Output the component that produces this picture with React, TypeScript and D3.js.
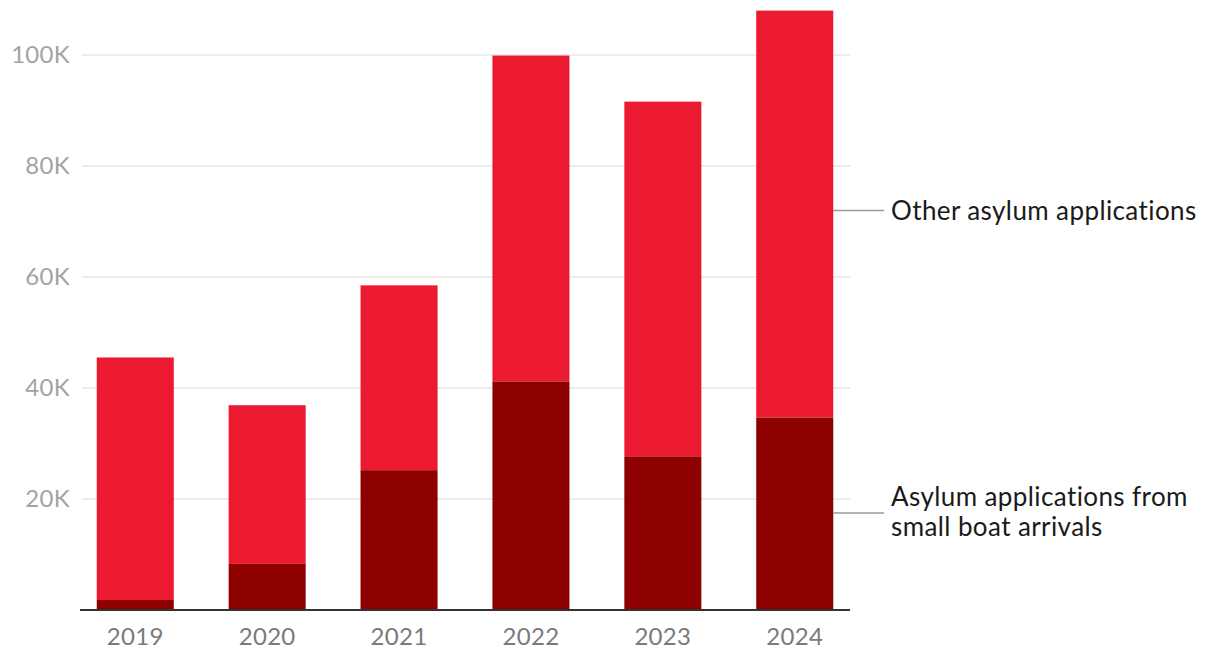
import React from "react";
import * as d3 from "d3";

const years = ["2019", "2020", "2021", "2022", "2023", "2024"];
const smallBoat = [1.8, 8.3, 25.2, 41.2, 27.7, 34.7];
const totals = [45.5, 36.9, 58.5, 99.9, 91.6, 108.0];
const other = totals.map((t, i) => +(t - smallBoat[i]).toFixed(1));
const yTicks = [20, 40, 60, 80, 100];
const seriesKeys = ["smallBoat", "other"];
const seriesLabels: Record<string, string[]> = {
  other: ["Other asylum applications"],
  smallBoat: ["Asylum applications from", "small boat arrivals"],
};
const colors: Record<string, string> = { smallBoat: "#8c0000", other: "#ec1a31" };

const W = 1220;
const H = 670;
const left = 80;
const right = 850;
const bottom = 610;

export default function App() {
  const rows = years.map((y, i) => ({ year: y, smallBoat: smallBoat[i], other: other[i] }));
  const stack = d3.stack<any>().keys(seriesKeys)(rows);
  const x = d3.scaleBand().domain(years).range([left, right]).paddingInner(0.416).paddingOuter(0.127);
  const y = d3.scaleLinear().domain([0, 100]).range([bottom, bottom - 555]);
  const font = "Lato, 'Open Sans', sans-serif";
  const lastYear = years[years.length - 1];
  const labelAnchors: Record<string, number> = { other: 72, smallBoat: 17.5 };

  return (
    <svg width={W} height={H} style={{ position: "absolute", left: 0, top: 0 }} fontFamily={font}>
      <rect width={W} height={H} fill="#fff" />
      {yTicks.map((t) => (
        <g key={t}>
          <line x1={82} x2={right} y1={y(t)} y2={y(t)} stroke="#e6e6e6" strokeWidth={1.5} />
          <text x={70} y={y(t)} dy="0.35em" textAnchor="end" fontSize={24} letterSpacing={0.3} fill="#a3a3a3">
            {t}K
          </text>
        </g>
      ))}
      {stack.map((s) => (
        <g key={s.key} fill={colors[s.key]}>
          {s.map((d: any, i: number) => (
            <rect
              key={i}
              x={x(years[i])}
              width={x.bandwidth()}
              y={y(d[1])}
              height={y(d[0]) - y(d[1])}
            />
          ))}
        </g>
      ))}
      <line x1={left} x2={right} y1={y(0)} y2={y(0)} stroke="#333" strokeWidth={2} />
      {years.map((yr) => (
        <text
          key={yr}
          x={(x(yr) as number) + x.bandwidth() / 2}
          y={637}
          dy="0.35em"
          textAnchor="middle"
          fontSize={24}
          letterSpacing={0.3}
          fill="#7a7a7a"
        >
          {yr}
        </text>
      ))}
      {seriesKeys.map((k) => {
        const xe = (x(lastYear) as number) + x.bandwidth();
        const yy = y(labelAnchors[k]);
        const lines = seriesLabels[k];
        const lh = 30;
        const y0 = yy - ((lines.length - 1) * lh) / 2 - (lines.length > 1 ? 1 : 0);
        return (
          <g key={k}>
            <line x1={xe} x2={884} y1={yy} y2={yy} stroke="#999" strokeWidth={1.5} />
            {lines.map((ln, j) => (
              <text key={j} x={891} y={y0 + j * lh} dy="0.35em" fontSize={26} letterSpacing={0.4} fill="#1a1a1a">
                {ln}
              </text>
            ))}
          </g>
        );
      })}
    </svg>
  );
}
